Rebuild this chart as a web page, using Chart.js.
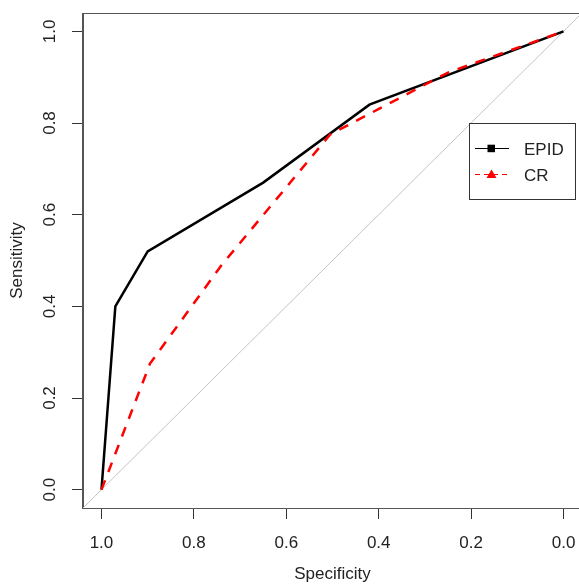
<!DOCTYPE html>
<html><head><meta charset="utf-8">
<script src="https://cdn.jsdelivr.net/npm/chart.js@4/dist/chart.umd.min.js"></script>
<style>html,body{margin:0;padding:0;background:#fff;overflow:hidden;width:579px;height:586px}canvas{display:block}</style>
</head><body>
<canvas id="c" width="600" height="586" style="width:600px;height:586px"></canvas>
<script>
// ---- data ----
const specEPID = [1.00, 0.97, 0.90, 0.65, 0.42, 0.00];
const sensEPID = [0.00, 0.40, 0.52, 0.67, 0.84, 1.00];
const specCR   = [1.00, 0.895, 0.74, 0.505, 0.25, 0.00];
const sensCR   = [0.00, 0.275, 0.49, 0.775, 0.91, 1.00];
const diagSpec = [1.04, -0.04];
const diagSens = [-0.04, 1.04];
const tickValues = [0.0, 0.2, 0.4, 0.6, 0.8, 1.0];
const seriesNames = ['EPID', 'CR'];
const xTitle = 'Specificity';
const yTitle = 'Sensitivity';

const FONT = '"Liberation Sans", Arial, sans-serif';
function pts(xs, ys) { return xs.map((x, i) => ({ x: x, y: ys[i] })); }

const framePlugin = {
  id: 'frame',
  afterDraw(chart) {
    const { ctx, chartArea: a, scales } = chart;
    ctx.save();
    // plot box
    ctx.strokeStyle = '#555';
    ctx.lineWidth = 1;
    ctx.strokeRect(Math.round(a.left) - 0.5, Math.round(a.top) + 0.5,
                   Math.round(a.right - a.left), Math.round(a.bottom - a.top));
    // rotated y tick labels
    ctx.fillStyle = '#222';
    ctx.font = '17px ' + FONT;
    ctx.textAlign = 'center';
    ctx.textBaseline = 'middle';
    tickValues.forEach(v => {
      const py = scales.y.getPixelForValue(v);
      ctx.save();
      ctx.translate(50, py);
      ctx.rotate(-Math.PI / 2);
      ctx.fillText(v.toFixed(1), 0, 0);
      ctx.restore();
    });
    // legend
    const L = 469.5, T = 123.5, W = 106, H = 76;
    ctx.fillStyle = '#fff';
    ctx.fillRect(L, T, W, H);
    ctx.strokeStyle = '#333';
    ctx.lineWidth = 1;
    ctx.strokeRect(L, T, W, H);
    const rows = [
      { name: seriesNames[0], y: 148.5, color: '#000', dash: [], marker: 'square' },
      { name: seriesNames[1], y: 174.5, color: '#ff0000', dash: [5, 4], marker: 'triangle' }
    ];
    rows.forEach(r => {
      ctx.strokeStyle = r.color;
      ctx.lineWidth = 1.2;
      ctx.setLineDash(r.dash);
      ctx.beginPath(); ctx.moveTo(475, r.y); ctx.lineTo(509, r.y); ctx.stroke();
      ctx.setLineDash([]);
      ctx.fillStyle = r.color;
      if (r.marker === 'square') {
        ctx.fillRect(487.5, r.y - 3.8, 7.5, 7.5);
      } else {
        ctx.beginPath();
        ctx.moveTo(491.5, r.y - 5);
        ctx.lineTo(496.5, r.y + 3.5);
        ctx.lineTo(486.5, r.y + 3.5);
        ctx.closePath(); ctx.fill();
      }
      ctx.fillStyle = '#222';
      ctx.textAlign = 'left';
      ctx.textBaseline = 'middle';
      ctx.fillText(r.name, 524, r.y + 1.5);
    });
    ctx.restore();
  }
};

new Chart(document.getElementById('c'), {
  type: 'scatter',
  data: {
    datasets: [
      { label: seriesNames[1], data: pts(specCR, sensCR), showLine: true, borderColor: '#ff0000',
        borderWidth: 2.5, borderDash: [10, 9], pointRadius: 0, fill: false, tension: 0 },
      { label: seriesNames[0], data: pts(specEPID, sensEPID), showLine: true, borderColor: '#000',
        borderWidth: 2.5, pointRadius: 0, fill: false, tension: 0 },
      { label: 'identity', data: pts(diagSpec, diagSens), showLine: true, borderColor: '#c4c4c4',
        borderWidth: 1, pointRadius: 0, fill: false }
    ]
  },
  options: {
    responsive: false,
    animation: false,
    devicePixelRatio: 1,
    layout: { padding: { top: 13, right: 18, left: 0, bottom: 0 } },
    plugins: { legend: { display: false }, tooltip: { enabled: false } },
    scales: {
      x: {
        type: 'linear', reverse: true, min: -0.04, max: 1.04,
        afterBuildTicks: s => { s.ticks = tickValues.map(v => ({ value: v })); },
        afterFit: s => { s.height = 78; },
        grid: { drawOnChartArea: false, drawTicks: true, tickLength: 11, tickColor: '#333', tickWidth: 1 },
        border: { display: true, color: '#555' },
        ticks: { font: { family: FONT, size: 17 }, color: '#222', padding: 14, maxRotation: 0, minRotation: 0,
                 autoSkip: false, callback: v => Number(v).toFixed(1) },
        title: { display: true, text: xTitle, font: { family: FONT, size: 17 }, color: '#222', padding: { top: 0, bottom: 1 } }
      },
      y: {
        type: 'linear', min: -0.04, max: 1.04,
        afterBuildTicks: s => { s.ticks = tickValues.map(v => ({ value: v })); },
        afterFit: s => { s.width = 83; },
        grid: { drawOnChartArea: false, drawTicks: true, tickLength: 11, tickColor: '#333', tickWidth: 1 },
        border: { display: true, color: '#555' },
        ticks: { display: false },
        title: { display: true, text: yTitle, font: { family: FONT, size: 17 }, color: '#222', padding: { top: 7, bottom: 0 } }
      }
    }
  },
  plugins: [framePlugin]
});
</script>
</body></html>
